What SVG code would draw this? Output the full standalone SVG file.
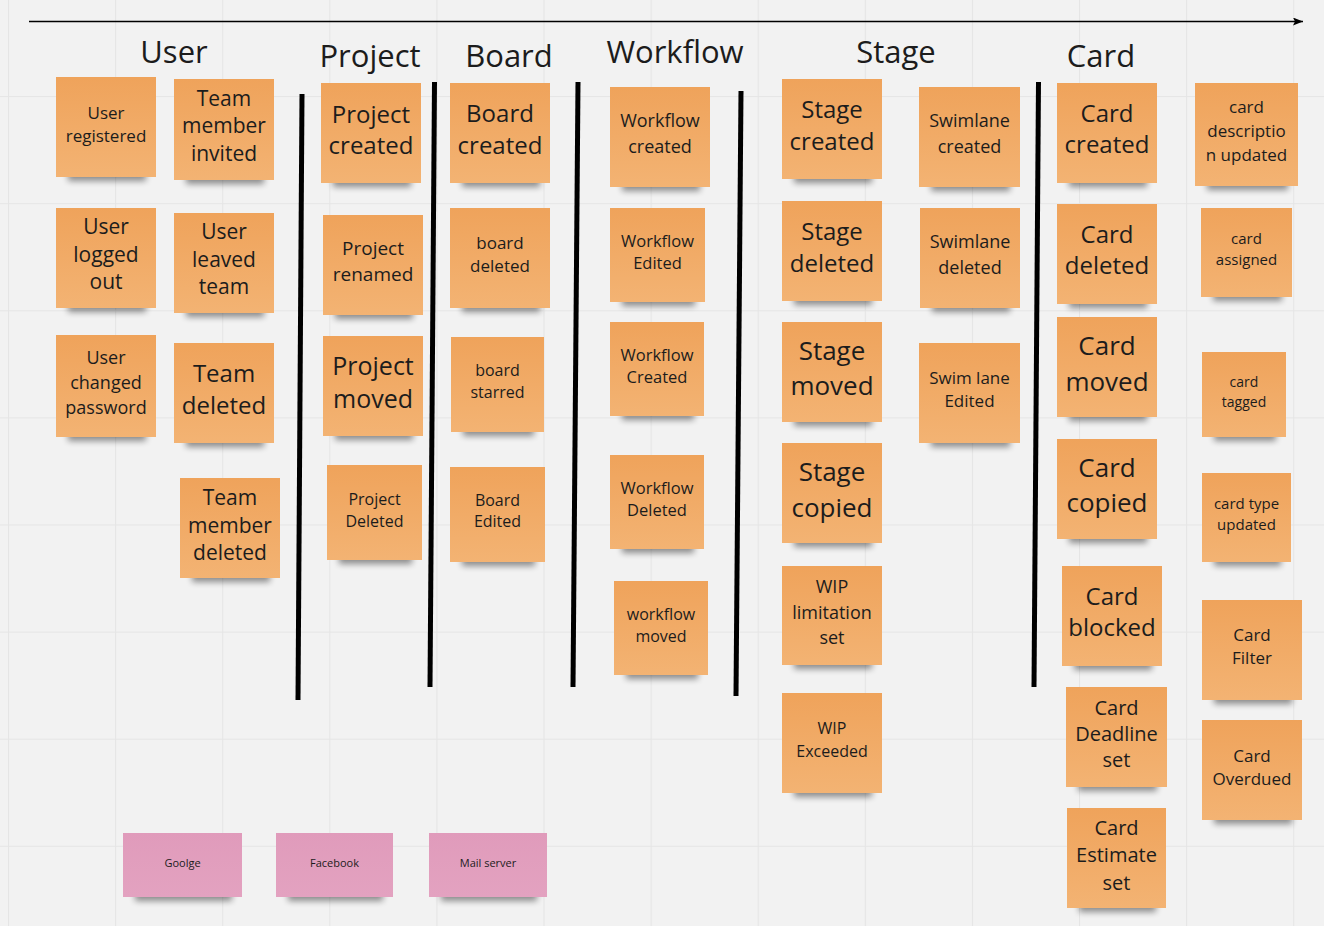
<svg xmlns="http://www.w3.org/2000/svg" width="1324" height="926" viewBox="0 0 1324 926">
<style>
text{font-family:"Open Sans","Noto Sans","Liberation Sans",sans-serif;fill:#1c1c1c;text-anchor:middle}
.h{font-size:31px}
.o{fill:url(#og)}
.p{fill:url(#pg)}
.sh{fill:#000;opacity:.42;filter:url(#blur)}
.sep{stroke:#000;stroke-width:5;stroke-linecap:butt}
</style>
<defs>
<pattern id="grid" patternUnits="userSpaceOnUse" x="8" y="-11" width="107.1" height="107.1">
<rect width="107.1" height="107.1" fill="#f2f2f2"/>
<path d="M0 0H107.1M0 0V107.1" stroke="#e5e5e5" stroke-width="2" fill="none"/>
</pattern>
<linearGradient id="og" x1="0" y1="0" x2="0" y2="1">
<stop offset="0" stop-color="#efa35b"/><stop offset="1" stop-color="#f3b373"/>
</linearGradient>
<linearGradient id="pg" x1="0" y1="0" x2="0" y2="1">
<stop offset="0" stop-color="#e09bbb"/><stop offset="1" stop-color="#e3a2c0"/>
</linearGradient>
<filter id="blur" x="-20%" y="-50%" width="140%" height="200%"><feGaussianBlur stdDeviation="3"/></filter>
<marker id="ah" viewBox="0 0 10 8" refX="10" refY="4" markerWidth="10" markerHeight="8" markerUnits="userSpaceOnUse" orient="auto"><path d="M0 0L10 4L0 8L2 4z" fill="#000"/></marker>
</defs>
<rect width="1324" height="926" fill="url(#grid)"/>

<g id="connectors">
<line x1="29" y1="21.5" x2="1303" y2="21.5" stroke="#000" stroke-width="1.6" marker-end="url(#ah)"/>
</g>
<g id="separators">
<line class="sep" x1="302" y1="94" x2="298" y2="700"/>
<line class="sep" x1="434.5" y1="82" x2="430" y2="687"/>
<line class="sep" x1="578" y1="82" x2="573" y2="687"/>
<line class="sep" x1="741" y1="91" x2="736" y2="696"/>
<line class="sep" x1="1038.5" y1="82" x2="1034" y2="687"/>
</g>

<g id="headers">
<text class="h" x="174" y="63">User</text>
<text class="h" x="370" y="67">Project</text>
<text class="h" x="509" y="67">Board</text>
<text class="h" x="675" y="63">Workflow</text>
<text class="h" x="896" y="63">Stage</text>
<text class="h" x="1101" y="67">Card</text>
</g>

<g id="n-user-registered"><rect class="sh" x="68" y="167" width="78" height="14"/><rect class="o" x="56" y="77" width="100" height="100"/><text font-size="17" x="106"><tspan x="106" y="119">User</tspan><tspan x="106" y="142">registered</tspan></text></g>
<g id="n-team-member-invited"><rect class="sh" x="186" y="170" width="78" height="14"/><rect class="o" x="174" y="79" width="100" height="101"/><text font-size="21"><tspan x="224" y="106">Team</tspan><tspan x="224" y="133">member</tspan><tspan x="224" y="161">invited</tspan></text></g>
<g id="n-user-logged-out"><rect class="sh" x="68" y="298" width="78" height="14"/><rect class="o" x="56" y="208" width="100" height="100"/><text font-size="21"><tspan x="106" y="234">User</tspan><tspan x="106" y="262">logged</tspan><tspan x="106" y="289">out</tspan></text></g>
<g id="n-user-leaved-team"><rect class="sh" x="186" y="303" width="78" height="14"/><rect class="o" x="174" y="213" width="100" height="100"/><text font-size="21"><tspan x="224" y="239">User</tspan><tspan x="224" y="267">leaved</tspan><tspan x="224" y="294">team</tspan></text></g>
<g id="n-user-changed-password"><rect class="sh" x="68" y="427" width="78" height="14"/><rect class="o" x="56" y="335" width="100" height="102"/><text font-size="18"><tspan x="106" y="364">User</tspan><tspan x="106" y="389">changed</tspan><tspan x="106" y="414">password</tspan></text></g>
<g id="n-team-deleted"><rect class="sh" x="186" y="433" width="78" height="14"/><rect class="o" x="174" y="343" width="100" height="100"/><text font-size="24"><tspan x="224" y="382">Team</tspan><tspan x="224" y="414">deleted</tspan></text></g>
<g id="n-team-member-deleted"><rect class="sh" x="192" y="568" width="78" height="14"/><rect class="o" x="180" y="478" width="100" height="100"/><text font-size="21"><tspan x="230" y="505">Team</tspan><tspan x="230" y="533">member</tspan><tspan x="230" y="560">deleted</tspan></text></g>

<g id="n-project-created"><rect class="sh" x="333" y="173" width="78" height="14"/><rect class="o" x="321" y="83" width="100" height="100"/><text font-size="24"><tspan x="371" y="123">Project</tspan><tspan x="371" y="154">created</tspan></text></g>
<g id="n-project-renamed"><rect class="sh" x="335" y="305" width="78" height="14"/><rect class="o" x="323" y="215" width="100" height="100"/><text font-size="19"><tspan x="373" y="255">Project</tspan><tspan x="373" y="281">renamed</tspan></text></g>
<g id="n-project-moved"><rect class="sh" x="335" y="426" width="78" height="14"/><rect class="o" x="323" y="336" width="100" height="100"/><text font-size="25"><tspan x="373" y="375">Project</tspan><tspan x="373" y="408">moved</tspan></text></g>
<g id="n-project-deleted"><rect class="sh" x="339" y="550" width="73" height="14"/><rect class="o" x="327" y="465" width="95" height="95"/><text font-size="16"><tspan x="374.5" y="505">Project</tspan><tspan x="374.5" y="527">Deleted</tspan></text></g>

<g id="n-board-created"><rect class="sh" x="462" y="173" width="78" height="14"/><rect class="o" x="450" y="83" width="100" height="100"/><text font-size="24"><tspan x="500" y="122">Board</tspan><tspan x="500" y="154">created</tspan></text></g>
<g id="n-board-deleted"><rect class="sh" x="462" y="298" width="78" height="14"/><rect class="o" x="450" y="208" width="100" height="100"/><text font-size="17"><tspan x="500" y="249">board</tspan><tspan x="500" y="272">deleted</tspan></text></g>
<g id="n-board-starred"><rect class="sh" x="463" y="422" width="71" height="14"/><rect class="o" x="451" y="337" width="93" height="95"/><text font-size="16"><tspan x="497.5" y="376">board</tspan><tspan x="497.5" y="398">starred</tspan></text></g>
<g id="n-board-edited"><rect class="sh" x="462" y="552" width="73" height="14"/><rect class="o" x="450" y="467" width="95" height="95"/><text font-size="16"><tspan x="497.5" y="506">Board</tspan><tspan x="497.5" y="527">Edited</tspan></text></g>

<g id="n-workflow-created"><rect class="sh" x="622" y="177" width="78" height="14"/><rect class="o" x="610" y="87" width="100" height="100"/><text font-size="18"><tspan x="660" y="127">Workflow</tspan><tspan x="660" y="153">created</tspan></text></g>
<g id="n-workflow-edited"><rect class="sh" x="622" y="292" width="73" height="14"/><rect class="o" x="610" y="208" width="95" height="94"/><text font-size="16.5"><tspan x="657.5" y="247">Workflow</tspan><tspan x="657.5" y="269">Edited</tspan></text></g>
<g id="n-workflow-created-2"><rect class="sh" x="622" y="406" width="72" height="14"/><rect class="o" x="610" y="322" width="94" height="94"/><text font-size="16.5"><tspan x="657" y="361">Workflow</tspan><tspan x="657" y="383">Created</tspan></text></g>
<g id="n-workflow-deleted"><rect class="sh" x="622" y="539" width="72" height="14"/><rect class="o" x="610" y="455" width="94" height="94"/><text font-size="16.5"><tspan x="657" y="494">Workflow</tspan><tspan x="657" y="516">Deleted</tspan></text></g>
<g id="n-workflow-moved"><rect class="sh" x="626" y="665" width="72" height="14"/><rect class="o" x="614" y="581" width="94" height="94"/><text font-size="16"><tspan x="661" y="620">workflow</tspan><tspan x="661" y="642">moved</tspan></text></g>

<g id="n-stage-created"><rect class="sh" x="794" y="169" width="78" height="14"/><rect class="o" x="782" y="79" width="100" height="100"/><text font-size="24"><tspan x="832" y="118">Stage</tspan><tspan x="832" y="150">created</tspan></text></g>
<g id="n-swimlane-created"><rect class="sh" x="931" y="177" width="79" height="14"/><rect class="o" x="919" y="87" width="101" height="100"/><text font-size="18"><tspan x="969.5" y="127">Swimlane</tspan><tspan x="969.5" y="153">created</tspan></text></g>
<g id="n-stage-deleted"><rect class="sh" x="794" y="291" width="78" height="14"/><rect class="o" x="782" y="201" width="100" height="100"/><text font-size="24"><tspan x="832" y="240">Stage</tspan><tspan x="832" y="272">deleted</tspan></text></g>
<g id="n-swimlane-deleted"><rect class="sh" x="932" y="298" width="78" height="14"/><rect class="o" x="920" y="208" width="100" height="100"/><text font-size="18"><tspan x="970" y="248">Swimlane</tspan><tspan x="970" y="274">deleted</tspan></text></g>
<g id="n-stage-moved"><rect class="sh" x="794" y="412" width="78" height="14"/><rect class="o" x="782" y="322" width="100" height="100"/><text font-size="26"><tspan x="832" y="360">Stage</tspan><tspan x="832" y="395">moved</tspan></text></g>
<g id="n-swim-lane-edited"><rect class="sh" x="931" y="433" width="79" height="14"/><rect class="o" x="919" y="343" width="101" height="100"/><text font-size="17"><tspan x="969.5" y="384">Swim lane</tspan><tspan x="969.5" y="407">Edited</tspan></text></g>
<g id="n-stage-copied"><rect class="sh" x="794" y="533" width="78" height="14"/><rect class="o" x="782" y="443" width="100" height="100"/><text font-size="26"><tspan x="832" y="481">Stage</tspan><tspan x="832" y="517">copied</tspan></text></g>
<g id="n-wip-limitation-set"><rect class="sh" x="794" y="655" width="78" height="14"/><rect class="o" x="782" y="566" width="100" height="99"/><text font-size="18"><tspan x="832" y="593">WIP</tspan><tspan x="832" y="619">limitation</tspan><tspan x="832" y="644">set</tspan></text></g>
<g id="n-wip-exceeded"><rect class="sh" x="794" y="783" width="78" height="14"/><rect class="o" x="782" y="693" width="100" height="100"/><text font-size="16"><tspan x="832" y="734">WIP</tspan><tspan x="832" y="757">Exceeded</tspan></text></g>

<g id="n-card-created"><rect class="sh" x="1069" y="173" width="78" height="14"/><rect class="o" x="1057" y="83" width="100" height="100"/><text font-size="24"><tspan x="1107" y="122">Card</tspan><tspan x="1107" y="153">created</tspan></text></g>
<g id="n-card-description-updated"><rect class="sh" x="1207" y="176" width="81" height="14"/><rect class="o" x="1195" y="83" width="103" height="103"/><text font-size="17"><tspan x="1246.5" y="113">card</tspan><tspan x="1246.5" y="137">descriptio</tspan><tspan x="1246.5" y="161">n updated</tspan></text></g>
<g id="n-card-deleted"><rect class="sh" x="1069" y="294" width="78" height="14"/><rect class="o" x="1057" y="204" width="100" height="100"/><text font-size="24"><tspan x="1107" y="243">Card</tspan><tspan x="1107" y="274">deleted</tspan></text></g>
<g id="n-card-assigned"><rect class="sh" x="1213" y="287" width="69" height="14"/><rect class="o" x="1201" y="208" width="91" height="89"/><text font-size="15"><tspan x="1246.5" y="244">card</tspan><tspan x="1246.5" y="265">assigned</tspan></text></g>
<g id="n-card-moved"><rect class="sh" x="1069" y="407" width="78" height="14"/><rect class="o" x="1057" y="317" width="100" height="100"/><text font-size="26"><tspan x="1107" y="355">Card</tspan><tspan x="1107" y="391">moved</tspan></text></g>
<g id="n-card-tagged"><rect class="sh" x="1214" y="427" width="62" height="14"/><rect class="o" x="1202" y="352" width="84" height="85"/><text font-size="14"><tspan x="1244" y="387">card</tspan><tspan x="1244" y="407">tagged</tspan></text></g>
<g id="n-card-copied"><rect class="sh" x="1069" y="529" width="78" height="14"/><rect class="o" x="1057" y="439" width="100" height="100"/><text font-size="26"><tspan x="1107" y="477">Card</tspan><tspan x="1107" y="512">copied</tspan></text></g>
<g id="n-card-type-updated"><rect class="sh" x="1214" y="552" width="67" height="14"/><rect class="o" x="1202" y="473" width="89" height="89"/><text font-size="15"><tspan x="1246.5" y="509">card type</tspan><tspan x="1246.5" y="530">updated</tspan></text></g>
<g id="n-card-blocked"><rect class="sh" x="1074" y="656" width="78" height="14"/><rect class="o" x="1062" y="566" width="100" height="100"/><text font-size="24"><tspan x="1112" y="605">Card</tspan><tspan x="1112" y="636">blocked</tspan></text></g>
<g id="n-card-filter"><rect class="sh" x="1214" y="690" width="78" height="14"/><rect class="o" x="1202" y="600" width="100" height="100"/><text font-size="17"><tspan x="1252" y="641">Card</tspan><tspan x="1252" y="664">Filter</tspan></text></g>
<g id="n-card-deadline-set"><rect class="sh" x="1078" y="777" width="79" height="14"/><rect class="o" x="1066" y="687" width="101" height="100"/><text font-size="20"><tspan x="1116.5" y="715">Card</tspan><tspan x="1116.5" y="741">Deadline</tspan><tspan x="1116.5" y="767">set</tspan></text></g>
<g id="n-card-overdued"><rect class="sh" x="1214" y="810" width="78" height="14"/><rect class="o" x="1202" y="720" width="100" height="100"/><text font-size="17"><tspan x="1252" y="762">Card</tspan><tspan x="1252" y="785">Overdued</tspan></text></g>
<g id="n-card-estimate-set"><rect class="sh" x="1079" y="898" width="77" height="14"/><rect class="o" x="1067" y="808" width="99" height="100"/><text font-size="20"><tspan x="1116.5" y="835">Card</tspan><tspan x="1116.5" y="862">Estimate</tspan><tspan x="1116.5" y="890">set</tspan></text></g>

<g id="n-google"><rect class="sh" x="135" y="887" width="97" height="14"/><rect class="p" x="123" y="833" width="119" height="64"/><text font-size="11" x="182.5" y="867">Goolge</text></g>
<g id="n-facebook"><rect class="sh" x="288" y="887" width="95" height="14"/><rect class="p" x="276" y="833" width="117" height="64"/><text font-size="11" x="334.5" y="867">Facebook</text></g>
<g id="n-mail-server"><rect class="sh" x="441" y="887" width="96" height="14"/><rect class="p" x="429" y="833" width="118" height="64"/><text font-size="11" x="488" y="867">Mail server</text></g>
</svg>
